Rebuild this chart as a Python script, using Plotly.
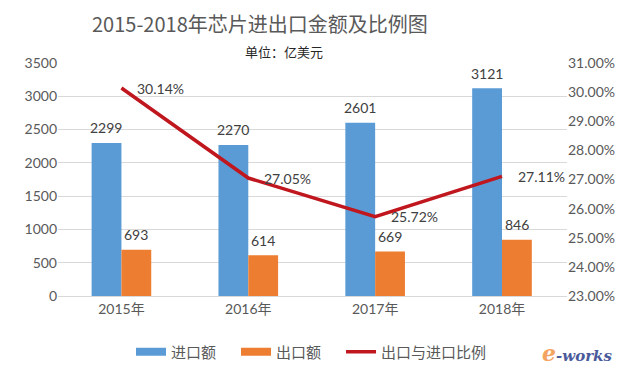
import plotly.graph_objects as go

categories = ["2015年", "2016年", "2017年", "2018年"]
import_values = [2299, 2270, 2601, 3121]
export_values = [693, 614, 669, 846]
ratio_values = [0.3014, 0.2705, 0.2572, 0.2711]
left_ticks = [0, 500, 1000, 1500, 2000, 2500, 3000, 3500]
right_ticks = [0.23, 0.24, 0.25, 0.26, 0.27, 0.28, 0.29, 0.30, 0.31]

NUM_FONT = "Lato, Noto Sans CJK SC, sans-serif"
CJK_FONT = "Noto Sans CJK SC, sans-serif"
BLUE, ORANGE, RED = "#5B9BD5", "#ED7D31", "#C0161E"

fig = go.Figure()
fig.add_trace(go.Bar(
    x=categories, y=import_values, name="进口额", showlegend=False,
    marker=dict(color=BLUE, line=dict(width=0)),
))
fig.add_trace(go.Bar(
    x=categories, y=export_values, name="出口额", showlegend=False,
    marker=dict(color=ORANGE, line=dict(width=0)),
))
fig.add_trace(go.Scatter(
    x=categories, y=ratio_values, name="出口与进口比例", yaxis="y2",
    mode="lines", line=dict(color=RED, width=3.5), showlegend=False,
))

# legend entries (wide swatches like the original); ideographic space widens spacing
for name, col, w in [("进口额\u3000", BLUE, 8), ("出口额\u3000", ORANGE, 8), ("出口与进口比例", RED, 3.5)]:
    fig.add_trace(go.Scatter(
        x=[None], y=[None], mode="lines", name=name,
        line=dict(color=col, width=w), showlegend=True,
    ))

# bar data labels
for vals, shift in [(import_values, -15), (export_values, 15)]:
    for c, v in zip(categories, vals):
        fig.add_annotation(
            x=c, y=v, text=str(v), showarrow=False,
            xanchor="center", yanchor="middle", xshift=shift, yshift=15,
            font=dict(family=NUM_FONT, size=14, color="#404040"),
        )

# line data labels
for c, v in zip(categories, ratio_values):
    fig.add_annotation(
        x=c, y=v, yref="y2", text=f"{v*100:.2f}%", showarrow=False,
        xanchor="left", yanchor="middle", xshift=14,
        font=dict(family=NUM_FONT, size=14, color="#404040"),
    )

fig.add_annotation(
    xref="paper", yref="paper", x=(260 - 58) / 509, y=1 + (63 - 24) / 233,
    text="2015-2018年芯片进出口金额及比例图", showarrow=False,
    xanchor="center", yanchor="middle",
    font=dict(family=CJK_FONT, size=20, color="#595959"),
)
fig.add_annotation(
    xref="paper", yref="paper", x=(284 - 58) / 509, y=1 + (63 - 51) / 233,
    text="单位：亿美元", showarrow=False,
    xanchor="center", yanchor="middle",
    font=dict(family=CJK_FONT, size=13, color="#262626"),
)
fig.add_annotation(
    xref="paper", yref="paper", x=(577 - 58) / 509, y=-(353 - 296) / 233,
    text="<i><b><span style='color:#F4A460;font-size:22px'>e</span>-works</b></i>", showarrow=False,
    xanchor="center", yanchor="middle",
    font=dict(family="DejaVu Serif, serif", size=15, color="#4A5A9A"),
)

fig.update_layout(
    width=640, height=378,
    margin=dict(l=58, r=73, t=63, b=82, autoexpand=False),
    paper_bgcolor="white", plot_bgcolor="white",
    barmode="group", bargap=0.53, bargroupgap=0,
    font=dict(family=NUM_FONT, size=14, color="#595959"),
    showlegend=True,
    legend=dict(
        orientation="h", x=(131 - 58) / 509, y=-(352 - 296) / 233,
        xanchor="left", yanchor="middle",
        font=dict(family=CJK_FONT, size=15, color="#595959"),
        itemwidth=30, tracegroupgap=0,
    ),
    xaxis=dict(
        showgrid=False, showline=True, linecolor="#D9D9D9", linewidth=1,
        ticks="", automargin=False,
        tickfont=dict(family=NUM_FONT, size=14, color="#595959"),
    ),
    yaxis=dict(
        range=[0, 3500], tickvals=left_ticks, showgrid=True, gridcolor="#D9D9D9",
        gridwidth=1, zeroline=False, showline=False, ticks="", automargin=False,
        tickfont=dict(family=NUM_FONT, size=14, color="#595959"),
    ),
    yaxis2=dict(
        range=[0.23, 0.31], tickvals=right_ticks, tickformat=".2%",
        overlaying="y", side="right", showgrid=False, zeroline=False,
        showline=False, ticks="", automargin=False,
        tickfont=dict(family=NUM_FONT, size=14, color="#595959"),
    ),
)

fig.write_html("out.html", config={"displayModeBar": False},
               post_script="document.body.style.margin='0';")
